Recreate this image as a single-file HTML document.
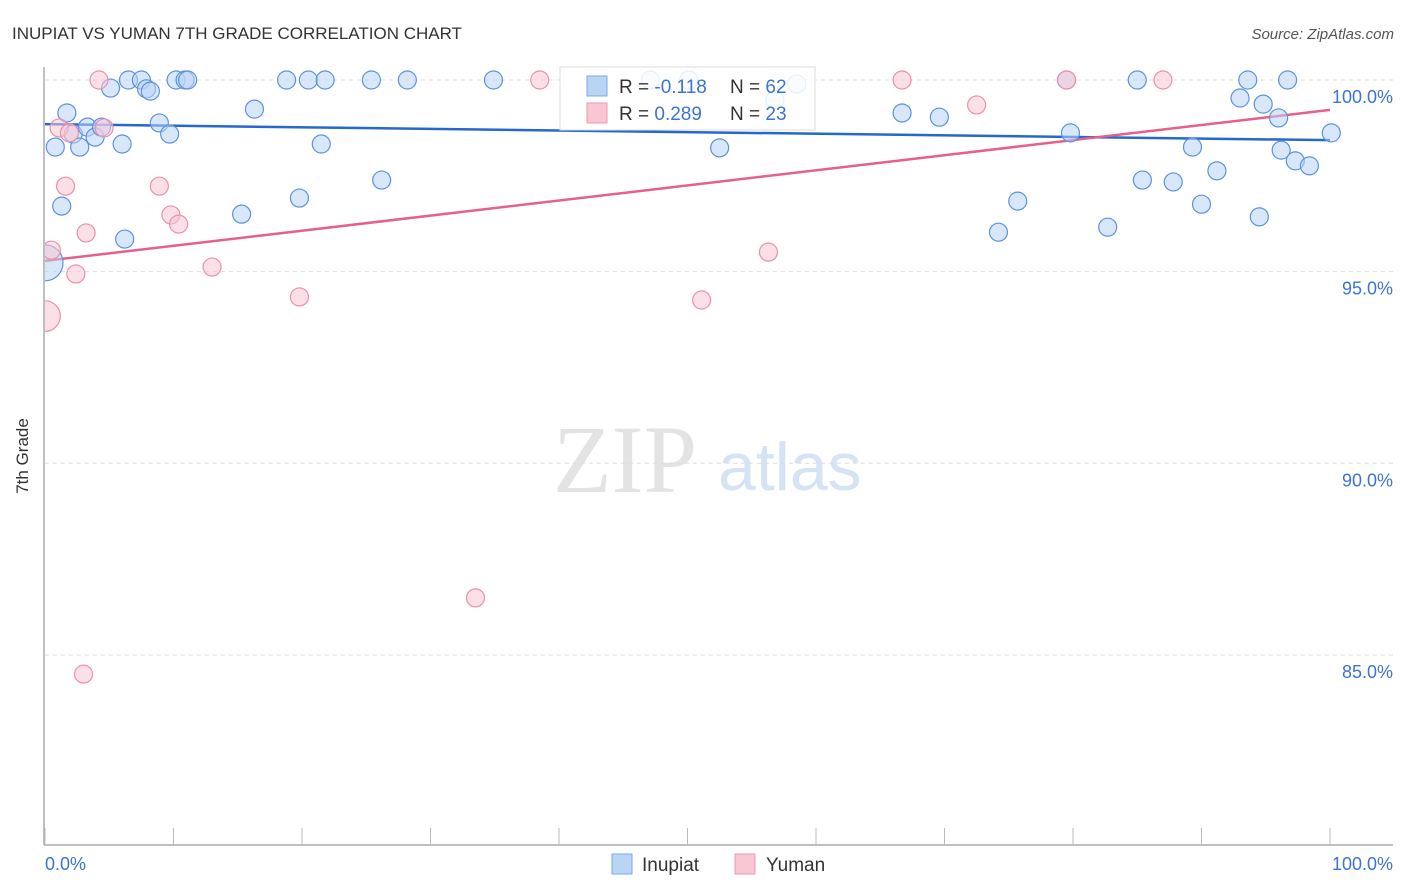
<!DOCTYPE html>
<html><head><meta charset="utf-8"><style>
body{margin:0;background:#fff;font-family:"Liberation Sans",sans-serif;}
#wrap{position:relative;width:1406px;height:892px;overflow:hidden;}
</style></head><body>
<div id="wrap">
<svg id="chart" width="1406" height="892">
<text x="12" y="39" font-size="17" fill="#333">INUPIAT VS YUMAN 7TH GRADE CORRELATION CHART</text>
<text x="1394" y="39" font-size="15" fill="#555" text-anchor="end" font-style="italic">Source: ZipAtlas.com</text>
<text x="28" y="456" font-size="17" fill="#333" text-anchor="middle" transform="rotate(-90 28 456)">7th Grade</text>
<g>
<text x="553" y="492" font-size="96" font-family="Liberation Serif,serif" fill="#e3e3e3">ZIP</text>
<text x="718" y="490" font-size="68" fill="#d6e3f5">atlas</text>
</g>
<defs><clipPath id="pc"><rect x="45" y="60" width="1360" height="785"/></clipPath></defs>
<g id="grid"></g><g id="axes"></g><g id="trend"></g><g id="pts" clip-path="url(#pc)"></g>
<g>
<rect x="560" y="67" width="255" height="63" fill="#fff" fill-opacity="0.85" stroke="#ddd"/>
<rect x="587" y="76" width="20" height="20" fill="#b9d4f5" stroke="#7aa8e6"/>
<rect x="587" y="103" width="20" height="20" fill="#f9c6d4" stroke="#ee9ab2"/>
<text x="619" y="93" font-size="19" fill="#333">R = <tspan fill="#3a74d4">-0.118</tspan></text>
<text x="730" y="93" font-size="19" fill="#333">N = <tspan fill="#3a74d4">62</tspan></text>
<text x="619" y="120" font-size="19" fill="#333">R = <tspan fill="#3a74d4">0.289</tspan></text>
<text x="730" y="120" font-size="19" fill="#333">N = <tspan fill="#3a74d4">23</tspan></text>
</g>
<g>
<rect x="612" y="854" width="20" height="20" fill="#b9d4f5" stroke="#7aa8e6"/>
<text x="642" y="871" font-size="19" fill="#333">Inupiat</text>
<rect x="735" y="854" width="20" height="20" fill="#f9c6d4" stroke="#ee9ab2"/>
<text x="766" y="871" font-size="19" fill="#333">Yuman</text>
</g>
</svg>
</div>
<script>
const yTicks=[100,95,90,85];
const yTickLabels=["100.0%","95.0%","90.0%","85.0%"];
const xTickValues=[0,10,20,30,40,50,60,70,80,90,100];
const xEndLabels=["0.0%","100.0%"];
const inupiatX=[0.8,1.3,1.7,2.2,2.7,3.3,3.9,4.4,5.1,6.0,6.2,6.5,7.5,7.9,8.2,8.9,9.7,10.2,10.9,11.1,15.3,16.3,18.8,19.8,20.5,21.5,21.8,25.4,26.2,28.2,34.9,47.1,50.1,56.8,58.5,52.5,66.7,69.6,74.2,75.7,79.5,79.8,82.7,85.0,85.4,87.8,89.3,90.0,91.2,93.0,93.6,94.5,94.8,96.0,96.2,96.7,97.3,98.4,100.1,0];
const inupiatY=[98.25,96.71,99.14,98.59,98.25,98.77,98.51,98.77,99.79,98.33,95.85,100,100,99.77,99.71,98.88,98.59,100,100,100,96.5,99.24,100,96.92,100,98.33,100,100,97.39,100,100,100,100,99.48,99.9,98.23,99.14,99.03,96.03,96.84,100,98.62,96.16,100,97.39,97.34,98.25,96.76,97.63,99.53,100,96.43,99.37,99.01,98.17,100,97.89,97.76,98.62,95.23];
const inupiatSize=[1,1,1,1,1,1,1,1,1,1,1,1,1,1,1,1,1,1,1,1,1,1,1,1,1,1,1,1,1,1,1,1,1,1,1,1,1,1,1,1,1,1,1,1,1,1,1,1,1,1,1,1,1,1,1,1,1,1,1,2];
const yumanX=[0,0.5,1.1,1.6,1.9,2.4,3.2,3.0,4.2,4.6,8.9,9.8,10.4,13.0,19.8,33.5,38.5,51.1,56.3,66.7,72.5,79.5,87.0];
const yumanY=[93.84,95.56,98.75,97.23,98.62,94.94,96.01,84.5,100,98.75,97.23,96.48,96.24,95.12,94.34,86.49,100,94.26,95.51,100,99.35,100,100];
const yumanSize=[1.7,1,1,1,1,1,1,1,1,1,1,1,1,1,1,1,1,1,1,1,1,1,1];
const inupiatTrend=[98.85,98.43];
const yumanTrend=[95.28,99.22];

const NS="http://www.w3.org/2000/svg";
const X=v=>45+v*12.85;
const Y=v=>80+(100-v)*38.33;
function mk(tag,attrs,parent){const e=document.createElementNS(NS,tag);for(const k in attrs)e.setAttribute(k,attrs[k]);document.getElementById(parent).appendChild(e);return e;}
yTicks.forEach((t,i)=>{
  const l=mk('line',{x1:45,x2:1393,y1:Y(t),y2:Y(t),stroke:'#ddd','stroke-dasharray':'4,4'},'grid');
  
  
  const tx=mk('text',{x:1393,y:Y(t)+23,'font-size':18,fill:'#3a74d4','text-anchor':'end'},'axes');
  tx.textContent=yTickLabels[i];
  
  
});
const ya=mk('line',{x1:44,x2:44,y1:67,y2:845,stroke:'#aaa','stroke-width':1.5},'axes');


const xa=mk('line',{x1:44,x2:1393,y1:845,y2:845,stroke:'#aaa','stroke-width':1.5},'axes');


xTickValues.forEach(v=>{
  const t=mk('line',{x1:X(v),x2:X(v),y1:828,y2:845,stroke:'#bbb'},'axes');
  
  
});
[[0,'start'],[100,'end']].forEach((p,i)=>{
  const t=mk('text',{x:i?1393:45,y:870,'font-size':18,fill:'#3a74d4','text-anchor':p[1]},'axes');
  t.textContent=xEndLabels[i];
  
  
});
function pts(xs,ys,sz,fill,stroke,name){
  xs.forEach((x,i)=>{
    const c=mk('circle',{cx:X(x),cy:Y(ys[i]),r:9*sz[i],fill:fill,'fill-opacity':0.55,stroke:stroke,'stroke-width':1.2},'pts');
    
    
  });
}
pts(inupiatX,inupiatY,inupiatSize,'#b9d4f5','#5b93e0','inupiat-point');
pts(yumanX,yumanY,yumanSize,'#f9c6d4','#ec8fab','yuman-point');
const tb=mk('line',{x1:X(0),x2:X(100),y1:Y(inupiatTrend[0]),y2:Y(inupiatTrend[1]),stroke:'#2468d0','stroke-width':2.5},'trend');


const tp=mk('line',{x1:X(0),x2:X(100),y1:Y(yumanTrend[0]),y2:Y(yumanTrend[1]),stroke:'#e5608a','stroke-width':2.5},'trend');


</script>
</body></html>
